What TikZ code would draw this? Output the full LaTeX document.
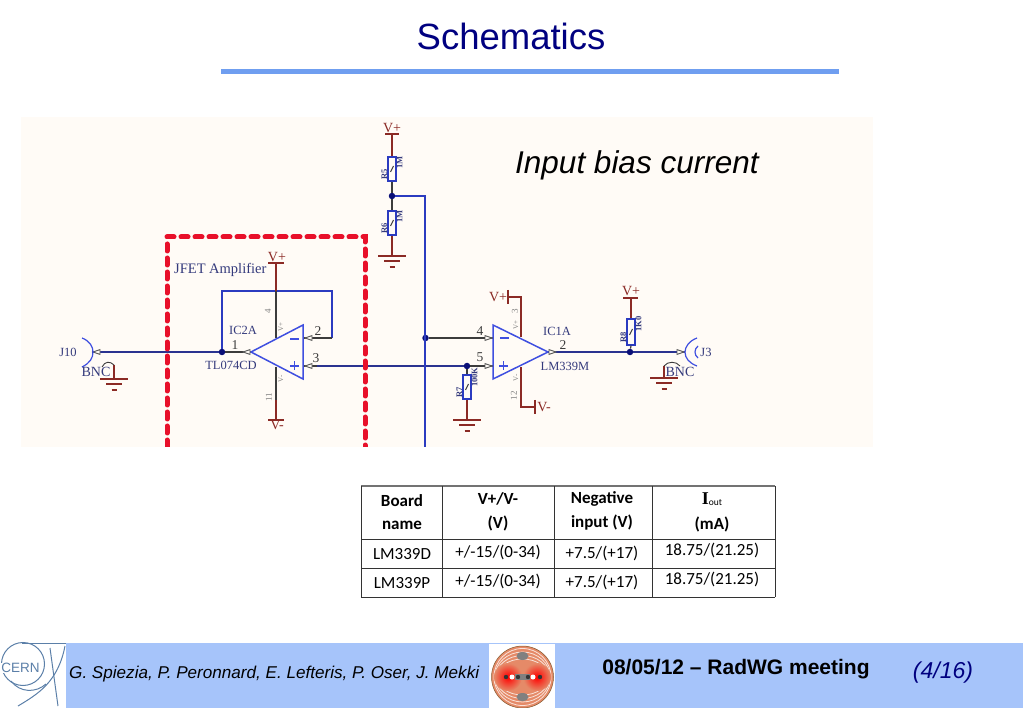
\documentclass[tikz,border=0pt]{standalone}
\usepackage{fontspec}
\setmainfont{Liberation Serif}
\newfontfamily\arialfont{Liberation Sans}
\newfontfamily\calibrifont{Carlito}
\usetikzlibrary{positioning}
\definecolor{panelcol}{HTML}{FFFBF6}
\definecolor{bandcol}{HTML}{A6C4FA}
\definecolor{rulecol}{HTML}{6F9EF0}
\definecolor{titlecol}{HTML}{000080}
\definecolor{wirecol}{HTML}{2B3BC0}
\definecolor{netcol}{HTML}{2A3390}
\definecolor{ampcol}{HTML}{3F4FE0}
\definecolor{supcol}{HTML}{8B2A25}
\definecolor{pincol}{HTML}{3C3C3C}
\definecolor{dotcol}{HTML}{0A0F78}
\definecolor{labcol}{HTML}{343A7C}
\definecolor{redbox}{HTML}{E8102A}
\definecolor{cerncol}{HTML}{5B7FA8}
\definecolor{lhccol}{HTML}{E58A68}
\tikzset{
  wire/.style={wirecol,line width=1.2},
  netwire/.style={netcol,line width=1.3},
  pinwire/.style={pincol,line width=1.2},
  supwire/.style={supcol,line width=1.2},
  ampbody/.style={ampcol,line width=1.5,line join=miter},
  ampsign/.style={ampcol,line width=1.8},
  jdot/.style={circle,fill=dotcol,inner sep=0pt,minimum size=6.5},
  resbox/.style={draw=wirecol,line width=1.2,fill=panelcol,inner sep=0pt,minimum width=8,minimum height=24,
    path picture={\draw[pincol,line width=1] ([xshift=-1.5pt,yshift=-3pt]path picture bounding box.center) -- ([xshift=1.5pt,yshift=3pt]path picture bounding box.center);}},
  suplab/.style={text=supcol,font=\fontsize{14}{14}\selectfont,inner sep=0pt},
  partlab/.style={text=labcol,font=\fontsize{12.5}{13}\selectfont,inner sep=0pt},
  pinlab/.style={text=pincol,font=\fontsize{13.5}{14}\selectfont,inner sep=0pt},
  tinylab/.style={text=gray,font=\fontsize{9}{9}\selectfont,inner sep=0pt,rotate=90},
  reslab/.style={text=labcol,font=\bfseries\fontsize{8.5}{9}\selectfont,inner sep=0pt,rotate=90},
  headcell/.style={font=\calibrifont\bfseries\fontsize{17}{18}\selectfont,inner sep=0pt},
  bodycell/.style={font=\calibrifont\fontsize{17}{18}\selectfont,inner sep=0pt},
  tabline/.style={black!80,line width=1},
  lhcline/.style={white!75!lhccol,line width=0.8},
  pics/gndsym/.style={code={
    \draw[supwire] (-14,0) -- (14,0);
    \draw[supwire] (-8,5) -- (8,5);
    \draw[supwire] (-2.5,11) -- (2.5,11);
  }},
  pics/pinmark/.style={code={
    \draw[gray!70!black,line width=0.9,fill=panelcol] (-4,0) -- (3,-2.4) -- (3,2.4) -- cycle;
  }}
}
\begin{document}
\begin{tikzpicture}[x=1pt,y=-1pt]
\useasboundingbox (0,0) rectangle (1023,708);

\node[text=titlecol,font=\arialfont\fontsize{36.5}{38}\selectfont,inner sep=0pt] (title) at (511,36.5) {Schematics};
\fill[rulecol] (221,69) rectangle (839,74);
\fill[panelcol] (21,117) rectangle (873,447);
\node[anchor=west,font=\arialfont\itshape\fontsize{31.5}{33}\selectfont,inner sep=0pt] (biaslab) at (515,165) {Input bias current};

\coordinate (j10) at (92,352);
\coordinate (fbtop1) at (222,291);
\coordinate (fbtop2) at (332,291);
\coordinate (fbend) at (332,338);
\coordinate (ic2apex) at (251,352);
\coordinate (ic2top) at (303,325);
\coordinate (ic2bot) at (303,379);
\coordinate (ic2neg) at (303,338);
\coordinate (ic2pos) at (303,366);
\coordinate (ic2vp) at (276,338);
\coordinate (ic2vm) at (276,367);
\coordinate (ic2vptop) at (276,263);
\coordinate (ic2vmbot) at (276,420);
\coordinate (ic1apex) at (548,352);
\coordinate (ic1top) at (493,325);
\coordinate (ic1bot) at (493,379);
\coordinate (ic1neg) at (493,338);
\coordinate (ic1pos) at (493,366);
\coordinate (ic1vp) at (521,337);
\coordinate (ic1vm) at (521,367);
\coordinate (ic1vpc) at (521,297);
\coordinate (ic1vmc) at (521,407);
\coordinate (ic1vpb) at (508,297);
\coordinate (ic1vmb) at (535,407);
\coordinate (busTop) at (425,196);
\coordinate (busEnd) at (425,447);
\coordinate (vtop) at (392,134);
\coordinate (gndA) at (392,256);
\coordinate (gndB) at (467,420);
\coordinate (vout) at (631,298);
\coordinate (j3) at (685,352);
\coordinate (gndJ10c) at (114,365);
\coordinate (gndJ10) at (114,379);
\coordinate (gndJ3c) at (664,366);
\coordinate (gndJ3) at (664,378);

\node[resbox] (r5) at (392,169) {};
\node[resbox] (r6) at (392,223) {};
\node[resbox] (r7) at (467,387) {};
\node[resbox,minimum height=26] (r8) at (631,332) {};
\node[jdot] (jdiv) at (392,196) {};
\node[jdot] (jneg) at (425.5,338) {};
\node[jdot] (jpos) at (467,366) {};
\node[jdot] (jout) at (630,352) {};
\node[jdot] (jfb) at (222,352) {};

\draw[netwire] (j10) -- (jfb);
\draw[pinwire] (jfb) -- (ic2apex);
\draw[wire] (jfb) -- (fbtop1) -- (fbtop2) -- (fbend);
\draw[pinwire] (fbend) -- (ic2neg);
\draw[pinwire] (ic2pos) -- ++(14,0);
\draw[netwire] (317,366) -- (jpos);
\draw[pinwire] (jpos) -- (ic1pos);
\draw[supwire] (ic2vptop) -- (fbtop1 -| ic2vptop);
\draw[pinwire] (fbtop1 -| ic2vptop) -- (ic2vp);
\draw[pinwire] (ic2vm) -- (276,400);
\draw[supwire] (276,400) -- (ic2vmbot);
\draw[supwire] (vtop) -- (r5.north);
\draw[pinwire] (r5.south) -- (jdiv);
\draw[pinwire] (jdiv) -- (r6.north);
\draw[supwire] (r6.south) -- (gndA);
\draw[wire] (jdiv) -- (busTop) -- (busEnd);
\draw[pinwire] (jneg) -- (ic1neg);
\draw[pinwire] (jpos) -- (r7.north);
\draw[supwire] (r7.south) -- (gndB);
\draw[supwire] (ic1vpb) -- (ic1vpc) -- (ic1vp);
\draw[supwire] (ic1vm) -- (ic1vmc) -- (ic1vmb);
\draw[netwire] (ic1apex) -- (jout);
\draw[netwire] (jout) -- (j3);
\draw[supwire] (vout) -- (r8.north);
\draw[pinwire] (r8.south) -- (jout);
\draw[supwire] (gndJ10c) -- (gndJ10);
\draw[supwire] (gndJ3c) -- (gndJ3);

\draw[ampbody] (ic2apex) -- (ic2top) -- (ic2bot) -- cycle;
\draw[ampbody] (ic1apex) -- (ic1top) -- (ic1bot) -- cycle;
\draw[ampsign] (290,339) -- (299,339);
\draw[ampsign] (290,366) -- (299,366);
\draw[ampsign] (294.5,361.5) -- (294.5,370.5);
\draw[ampsign] (500,338) -- (509,338);
\draw[ampsign] (499,366) -- (508,366);
\draw[ampsign] (503.5,361.5) -- (503.5,370.5);

\pic at (gndA) {gndsym};
\pic at (gndB) {gndsym};
\pic at (gndJ10) {gndsym};
\pic at (gndJ3) {gndsym};
\pic at (247,352) {pinmark};
\pic at (309,338) {pinmark};
\pic at (309,366) {pinmark};
\pic[xscale=-1] at (488,338) {pinmark};
\pic[xscale=-1] at (488,366) {pinmark};
\pic[xscale=-1] at (552,352) {pinmark};
\pic at (97,352) {pinmark};
\pic[xscale=-1] at (680,352) {pinmark};

\draw[supwire] (268,263) -- (284,263);
\draw[supwire] (268,420) -- (284,420);
\draw[supwire] (385,134) -- (399,134);
\draw[supwire] (623,298) -- (638,298);
\draw[supwire] (ic1vpb) ++(0,-7) -- ++(0,14);
\draw[supwire] (ic1vmb) ++(0,-7) -- ++(0,14);

\draw[ampcol,line width=1.2] (82,338) .. controls (90,341) and (93,347) .. (93,352) .. controls (93,358) and (90,363) .. (82,367);
\draw[ampcol,line width=1.2] (697,338) .. controls (689,341) and (685,347) .. (685,352) .. controls (685,358) and (689,363) .. (697,366);
\draw[ampcol,line width=1.2] (698,346) .. controls (694,349) and (694,355) .. (698,358);
\draw[pincol,line width=0.9] (102,367) .. controls (105,361) and (110,361) .. (gndJ10c);
\draw[pincol,line width=0.9] (gndJ3c) .. controls (668,361) and (676,361) .. (680,366);

\draw[redbox,line width=5,dash pattern=on 7pt off 7pt,line cap=round] (167,447) -- (167,237) -- (365,237) -- (365,447);
\fill[white] (150,447) rectangle (380,455);

\node[anchor=west,text=labcol,font=\fontsize{14.5}{15}\selectfont,inner sep=0pt] (jfetlab) at (174,270) {JFET Amplifier};
\node[suplab] (vp1) at (277,257) {V+};
\node[suplab] (vm1) at (277,425) {V-};
\node[suplab] (vp2) at (392,128) {V+};
\node[suplab] (vp3) at (498,297) {V+};
\node[suplab] (vm2) at (544,407) {V-};
\node[suplab] (vp4) at (631,291) {V+};
\node[partlab] (j10lab) at (68,352) {J10};
\node[partlab,font=\fontsize{14}{14}\selectfont] (bnc1) at (96,372) {BNC};
\node[partlab] (ic2lab) at (243,330) {IC2A};
\node[partlab] (tllab) at (231,365) {TL074CD};
\node[partlab] (ic1lab) at (557,331) {IC1A};
\node[partlab] (lmlab) at (565,366) {LM339M};
\node[partlab] (j3lab) at (706,352) {J3};
\node[partlab,font=\fontsize{14}{14}\selectfont] (bnc2) at (680,372) {BNC};
\node[pinlab] (pin1) at (235,345) {1};
\node[pinlab] (pin2) at (318,331) {2};
\node[pinlab] (pin3) at (316,358) {3};
\node[pinlab] (pin4) at (480,331) {4};
\node[pinlab] (pin5) at (480,357) {5};
\node[pinlab] (pin6) at (563,345) {2};
\node[tinylab] (sup4) at (268,311) {4};
\node[tinylab] (sup11) at (269,397) {11};
\node[tinylab] (sup3) at (515,311) {3};
\node[tinylab] (sup12) at (514,396) {12};
\node[tinylab,font=\fontsize{7}{7}\selectfont] (vs1) at (281,327) {V+};
\node[tinylab,font=\fontsize{7}{7}\selectfont] (vs2) at (281,379) {V-};
\node[tinylab,font=\fontsize{7}{7}\selectfont] (vs3) at (516,325) {V+};
\node[tinylab,font=\fontsize{7}{7}\selectfont] (vs4) at (516,378) {V-};
\node[reslab,left=3 of r5] (r5a) {R5};
\node[reslab,right=3 of r5] (r5b) {1M};
\node[reslab,left=3 of r6] (r6a) {R6};
\node[reslab,right=3 of r6] (r6b) {1M};
\node[reslab,left=3 of r7] (r7a) {R7};
\node[reslab,right=3 of r7] (r7b) {100K};
\node[reslab,left=3 of r8] (r8a) {R8};
\node[reslab,right=3 of r8] (r8b) {1K0};

\draw[black!55,line width=1.6] (361,486) -- (775,486);
\draw[tabline] (361,539) -- (775,539);
\draw[tabline] (361,568) -- (775,568);
\draw[tabline] (361,597) -- (775,597);
\draw[tabline] (361.5,486) -- (361.5,597);
\draw[tabline] (442,486) -- (442,597);
\draw[tabline] (554,486) -- (554,597);
\draw[tabline] (652,486) -- (652,597);
\draw[tabline] (775,486) -- (775,597);
\node[headcell] (h1a) at (402,501) {Board};
\node[headcell] (h1b) at (402,525) {name};
\node[headcell] (h2a) at (498,499) {V+/V-};
\node[headcell] (h2b) at (498,523) {(V)};
\node[headcell] (h3a) at (602,499) {Negative};
\node[headcell] (h3b) at (602,523) {input (V)};
\node[inner sep=0pt] (h4a) at (712,499) {\fontsize{18}{18}\selectfont\textbf{I}\fontsize{9.5}{10}\selectfont\calibrifont\raisebox{-1.5pt}{out}};
\node[headcell] (h4b) at (712,524) {(mA)};
\node[bodycell] (c11) at (402,554) {LM339D};
\node[bodycell] (c12) at (498,552) {+/-15/(0-34)};
\node[bodycell] (c13) at (602,553) {+7.5/(+17)};
\node[bodycell] (c14) at (712,550) {18.75/(21.25)};
\node[bodycell] (c21) at (402,583) {LM339P};
\node[bodycell] (c22) at (498,581) {+/-15/(0-34)};
\node[bodycell] (c23) at (602,582) {+7.5/(+17)};
\node[bodycell] (c24) at (712,579) {18.75/(21.25)};

\fill[bandcol] (66,643) rectangle (1023,708);
\node[anchor=west,font=\arialfont\itshape\fontsize{17.1}{18}\selectfont,inner sep=0pt] (authors) at (69,674) {G. Spiezia, P. Peronnard, E. Lefteris, P. Oser, J. Mekki};
\node[font=\arialfont\bfseries\fontsize{21}{22}\selectfont,inner sep=0pt] (datelab) at (736,669) {08/05/12 – RadWG meeting};
\node[text=titlecol,font=\arialfont\itshape\fontsize{23}{24}\selectfont,inner sep=0pt] (pagelab) at (943,673) {(4/16)};

\draw[cerncol,line width=1] (23,664) circle (21.5);
\node[fill=white,text=cerncol,font=\arialfont\fontsize{13.5}{14}\selectfont,inner sep=0.5pt] (cernlab) at (20.5,668) {CERN};
\draw[cerncol,line width=1] (22,643) -- (66,643);
\draw[cerncol,line width=1] (50,648) -- (58,706);
\draw[cerncol,line width=1] (65,646) .. controls (58,682) and (38,694) .. (18,706);
\draw[cerncol,line width=1] (11,681) .. controls (20,693) and (36,693) .. (46,684);

\fill[white] (489,644) rectangle (555,708);
\draw[lhccol,line width=6] (501,656) -- (544,698);
\draw[lhccol,line width=6] (544,656) -- (501,698);
\fill[lhccol,draw=brown!70!black,line width=0.5] (522.5,677) circle (31);
\draw[lhcline] (522.5,677) circle (28.5);
\draw[lhcline] (522.5,677) ellipse (27.5 and 25);
\draw[lhcline] (522.5,677) ellipse (26.5 and 21.5);
\draw[lhcline] (522.5,677) ellipse (25.5 and 18);
\shade[inner color=red,outer color=lhccol] (508,677) circle (14);
\shade[inner color=red,outer color=lhccol] (537,677) circle (14);
\fill[gray] (515,674) rectangle (530,680);
\fill[gray] (522.5,656) ellipse (6 and 4);
\fill[gray] (522.5,697) ellipse (6 and 4);
\fill[black!80] (506,677) circle (2.2);
\fill[black!80] (518,677) circle (2.2);
\fill[black!80] (528,677) circle (2.2);
\fill[black!80] (540,677) circle (2.2);
\fill[white] (512,677) circle (2.5);
\fill[white] (533,677) circle (2.5);
\end{tikzpicture}
\end{document}
